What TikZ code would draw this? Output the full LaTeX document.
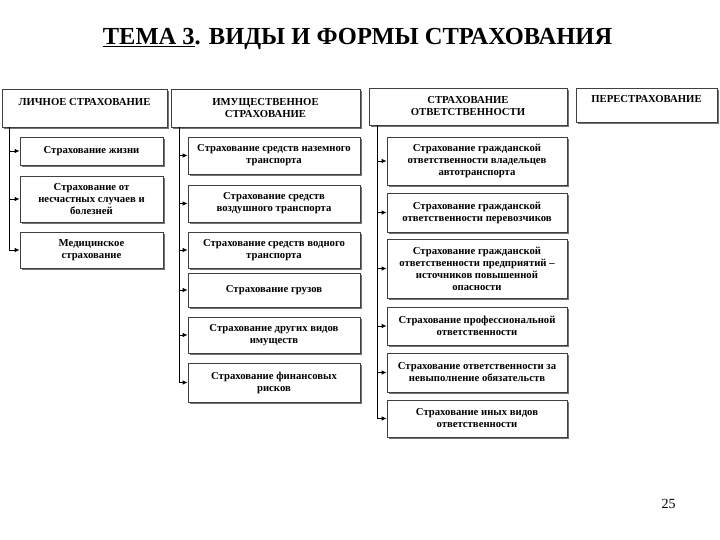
\documentclass[tikz,border=0pt]{standalone}
\usepackage{fontspec}
\setmainfont{Liberation Serif}
\usetikzlibrary{shadows,arrows.meta}
\begin{document}
\begin{tikzpicture}[x=1pt,y=-1pt,
  box/.style={draw=black!75, line width=0.6pt, fill=white, align=center,
    font=\bfseries\fontsize{10.7}{12}\selectfont, inner sep=1pt,
    drop shadow={shadow xshift=1.6pt, shadow yshift=-1.6pt, fill=black!55, opacity=1}},
  arr/.style={draw=black, line width=0.9pt, -{Latex[length=5pt,width=4.5pt]}}]
\useasboundingbox (0,0) rectangle (720,540);
\fill[white] (0,0) rectangle (720,540);
% title
\node[font=\rmfamily\bfseries\fontsize{24.5}{28}\selectfont, inner sep=0pt, anchor=base] (title) at (357.5,45)
  {\underline{ТЕМА 3}. ВИДЫ И ФОРМЫ СТРАХОВАНИЯ};
% parents
\node[box, minimum width=165pt, minimum height=38pt] (l0) at (84.5,108) {ЛИЧНОЕ СТРАХОВАНИЕ\\\mbox{}};
\node[box, minimum width=189pt, minimum height=38pt] (m0) at (265.5,108) {ИМУЩЕСТВЕННОЕ\\СТРАХОВАНИЕ};
\node[box, minimum width=198pt, minimum height=37pt] (r0) at (468,106.5) {СТРАХОВАНИЕ\\ОТВЕТСТВЕННОСТИ};
\node[box, minimum width=141pt, minimum height=34pt] (p0) at (646.5,105) {ПЕРЕСТРАХОВАНИЕ\\\mbox{}};
% column 1
\node[box, minimum width=143pt, minimum height=28pt] (l1) at (91.5,151) {Страхование жизни};
\node[box, minimum width=143pt, minimum height=46pt] (l2) at (91.5,199) {Страхование от\\несчастных случаев и\\болезней};
\node[box, minimum width=143pt, minimum height=36pt] (l3) at (91.5,250) {Медицинское\\страхование};
% column 2
\node[box, minimum width=172pt, minimum height=37pt] (m1) at (274,155.5) {Страхование средств наземного\\транспорта};
\node[box, minimum width=172pt, minimum height=37pt] (m2) at (274,203.5) {Страхование средств\\воздушного транспорта};
\node[box, minimum width=172pt, minimum height=36pt] (m3) at (274,250) {Страхование средств водного\\транспорта};
\node[box, minimum width=172pt, minimum height=34pt] (m4) at (274,290) {Страхование грузов};
\node[box, minimum width=172pt, minimum height=36pt] (m5) at (274,335) {Страхование других видов\\имуществ};
\node[box, minimum width=172pt, minimum height=39pt] (m6) at (274,382.5) {Страхование финансовых\\рисков};
% column 3
\node[box, minimum width=180pt, minimum height=48pt] (r1) at (477,161) {Страхование гражданской\\ответственности владельцев\\автотранспорта};
\node[box, minimum width=180pt, minimum height=39pt] (r2) at (477,212.5) {Страхование гражданской\\ответственности перевозчиков};
\node[box, minimum width=180pt, minimum height=59pt] (r3) at (477,268.5) {Страхование гражданской\\ответственности предприятий –\\источников повышенной\\опасности};
\node[box, minimum width=180pt, minimum height=38pt] (r4) at (477,326) {Страхование профессиональной\\ответственности};
\node[box, minimum width=180pt, minimum height=39pt] (r5) at (477,372.5) {Страхование ответственности за\\невыполнение обязательств};
\node[box, minimum width=180pt, minimum height=37pt] (r6) at (477,418.5) {Страхование иных видов\\ответственности};
% trunks
\coordinate (lt) at ([xshift=8pt]l0.south west);
\coordinate (mt) at ([xshift=9pt]m0.south west);
\coordinate (rt) at ([xshift=9pt]r0.south west);
\foreach \c in {l1,l2,l3} \draw[arr] (lt) |- (\c.west);
\foreach \c in {m1,m2,m3,m4,m5,m6} \draw[arr] (mt) |- (\c.west);
\foreach \c in {r1,r2,r3,r4,r5,r6} \draw[arr] (rt) |- (\c.west);
% page number
\node[font=\rmfamily\fontsize{14}{16}\selectfont, inner sep=0pt, anchor=base] (pg) at (668.5,508) {25};
\end{tikzpicture}
\end{document}
